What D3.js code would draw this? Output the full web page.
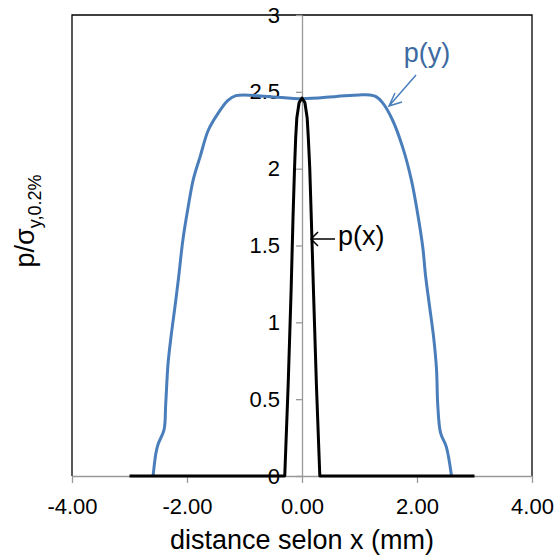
<!DOCTYPE html>
<html><head><meta charset="utf-8">
<script src="https://cdn.jsdelivr.net/npm/d3@7"></script>
<style>body{margin:0;background:#fff}svg{display:block;font-family:Arial,"Liberation Sans",sans-serif}</style>
</head><body>
<svg id="c" width="556" height="555"></svg>
<script>
// p(y) curve (blue)
const pyX = [-2.59,-2.54,-2.50,-2.40,-2.37,-2.33,-2.28,-2.21,-2.15,-2.07,-1.98,-1.89,-1.77,-1.63,-1.46,-1.30,-1.15,-0.6,0,0.6,1.0,1.18,1.28,1.40,1.57,1.75,1.90,2.01,2.10,2.15,2.22,2.29,2.34,2.36,2.41,2.51,2.60];
const pyY = [0,0.15,0.21,0.30,0.47,0.73,0.90,1.10,1.28,1.54,1.75,1.93,2.08,2.25,2.36,2.44,2.475,2.47,2.455,2.47,2.48,2.48,2.47,2.43,2.32,2.14,1.93,1.71,1.49,1.30,1.10,0.90,0.69,0.47,0.28,0.19,0];
// p(x) curve (black)
const pxX = [-3,-0.30,-0.24,-0.19,-0.155,-0.13,-0.11,-0.09,-0.05,0,0.05,0.09,0.11,0.135,0.16,0.20,0.25,0.31,3];
const pxY = [0,0,0.6,1.2,1.7,2.0,2.2,2.33,2.43,2.46,2.43,2.33,2.2,2.0,1.7,1.2,0.6,0,0];
const xTicks = [-4,-2,0,2,4];
const yTicks = [0,0.5,1,1.5,2,2.5,3];

const svg = d3.select("#c");
const x = d3.scaleLinear().domain([-4,4]).range([72,532]);
const y = d3.scaleLinear().domain([0,3]).range([476,15]);

// frame
svg.append("path").attr("d",`M${x(-4)},${y(0)}V${y(3)}H${x(4)}V${y(0)}`)
  .attr("fill","none").attr("stroke","#000").attr("stroke-width",1.3);

// x axis at y=0
const xa = svg.append("g").attr("transform",`translate(0,${y(0)})`)
  .call(d3.axisBottom(x).tickValues(xTicks).tickSize(7).tickSizeOuter(0).tickFormat(d=>d.toFixed(2)));
xa.select(".domain").attr("stroke","#999").attr("stroke-width",1.3);
xa.selectAll(".tick line").attr("stroke","#999").attr("stroke-width",1.3);
xa.selectAll(".tick text").attr("fill","#000").attr("font-size",22).attr("font-family","Arial, Liberation Sans").attr("dy","1.25em");

// y axis at x=0
const ya = svg.append("g").attr("transform",`translate(${x(0)},0)`)
  .call(d3.axisLeft(y).tickValues(yTicks).tickSize(6).tickSizeOuter(0).tickPadding(16).tickFormat(d=>String(d)));
ya.select(".domain").attr("stroke","#999").attr("stroke-width",1.3);
ya.selectAll(".tick line").attr("stroke","#999").attr("stroke-width",1.3);
ya.selectAll(".tick text").attr("fill","#000").attr("font-size",22).attr("font-family","Arial, Liberation Sans");

const line = d3.line().x(d=>x(d[0])).y(d=>y(d[1])).curve(d3.curveCatmullRom.alpha(0.5));
svg.append("path").datum(d3.zip(pyX,pyY)).attr("d",line)
  .attr("fill","none").attr("stroke","#4A7EBB").attr("stroke-width",3).attr("stroke-linejoin","round");
svg.append("path").datum(d3.zip(pxX,pxY)).attr("d",d3.line().x(d=>x(d[0])).y(d=>y(d[1])))
  .attr("fill","none").attr("stroke","#000").attr("stroke-width",3).attr("stroke-linejoin","round");

// annotations
svg.append("text").attr("x",427).attr("y",62).attr("text-anchor","middle")
  .attr("font-size",27).attr("fill","#3D6AA0").text("p(y)");
svg.append("path").attr("d","M416,75L389,106M395,93L389,106L402,102")
  .attr("fill","none").attr("stroke","#4A7EBB").attr("stroke-width",1.5);
svg.append("text").attr("x",338).attr("y",245)
  .attr("font-size",27).attr("fill","#000").text("p(x)");
svg.append("path").attr("d","M335,239L311,239M318,232L311,239L318,246")
  .attr("fill","none").attr("stroke","#000").attr("stroke-width",1.5);

// axis titles
svg.append("text").attr("x",(72+532)/2).attr("y",549).attr("text-anchor","middle")
  .attr("font-size",27).attr("fill","#000").text("distance selon x (mm)");
const yt = svg.append("text").attr("transform","translate(34,221) rotate(-90)").attr("text-anchor","middle")
  .attr("font-size",27).attr("fill","#000");
yt.append("tspan").text("p/σ");
yt.append("tspan").attr("font-size",18).attr("dy",7).text("y,0.2%");
</script>
</body></html>
